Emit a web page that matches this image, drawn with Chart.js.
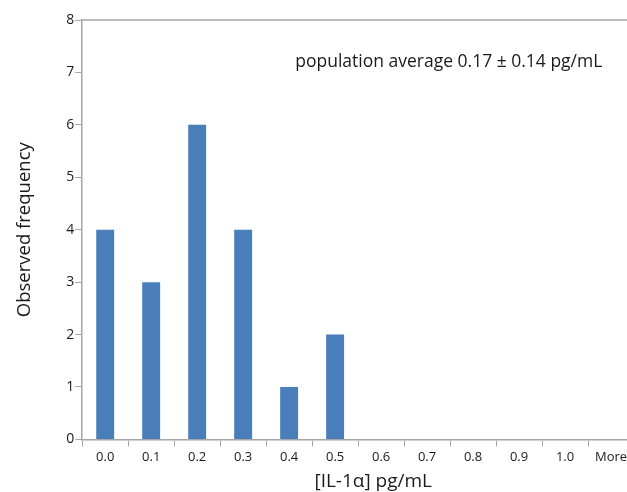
<!DOCTYPE html>
<html>
<head>
<meta charset="utf-8">
<script src="https://cdn.jsdelivr.net/npm/chart.js@4"></script>
<style>
	html, body { margin: 0; padding: 0; background: #fff; overflow: hidden; }
	#wrap { width: 640px; height: 492px; }
</style>
</head>
<body>
<div id="wrap"><canvas id="hist"></canvas></div>
<script>
const binLabels = ["0.0", "0.1", "0.2", "0.3", "0.4", "0.5", "0.6", "0.7", "0.8", "0.9", "1.0", "More"];
const frequencies = [4, 3, 6, 4, 1, 2, 0, 0, 0, 0, 0, 0];
const yTicks = [0, 1, 2, 3, 4, 5, 6, 7, 8];
const note = "population average 0.17 ± 0.14 pg/mL";
const xTitle = "[IL-1α] pg/mL";

const axisGrey = "#a6a6a6";
const textColor = "#1a1a1a";
const fontFamily = "'Open Sans', 'Noto Sans', sans-serif";

// top frame line, the average note and the x title (sits right of centre in the original)
const extras = {
	id: "extras",
	afterDraw(chart) {
		const { ctx, chartArea } = chart;
		ctx.save();
		ctx.strokeStyle = axisGrey;
		ctx.lineWidth = 1.5;
		ctx.beginPath();
		ctx.moveTo(chartArea.left, chartArea.top);
		ctx.lineTo(chartArea.right, chartArea.top);
		ctx.stroke();
		ctx.fillStyle = textColor;
		ctx.textBaseline = "middle";
		ctx.font = "17.5px " + fontFamily;
		ctx.textAlign = "left";
		ctx.fillText(note, chartArea.left + 213, chart.scales.y.getPixelForValue(7.2));
		ctx.font = "19px " + fontFamily;
		ctx.textAlign = "center";
		ctx.fillText(xTitle, chartArea.left + 291, chartArea.bottom + 42);
		ctx.restore();
	},
};

const data = {
	labels: binLabels,
	datasets: [
		{
			data: frequencies,
			backgroundColor: "#4a7ebb",
			borderWidth: 0,
			barPercentage: 0.39,
			categoryPercentage: 1,
		},
	],
};

const options = {
	responsive: true,
	maintainAspectRatio: false,
	animation: false,
	layout: { padding: { top: 20, right: 6, left: 14, bottom: 24 } },
	plugins: {
		legend: { display: false },
		tooltip: { enabled: false },
	},
	scales: {
		x: {
			grid: {
				offset: true,
				drawOnChartArea: false,
				drawTicks: true,
				tickLength: 7,
				color: axisGrey,
			},
			border: { color: axisGrey, width: 1.5 },
			ticks: {
				color: textColor,
				font: { family: fontFamily, size: 13 },
				maxRotation: 0,
				autoSkip: false,
				padding: 3,
			},
		},
		y: {
			min: 0,
			max: 8,
			afterBuildTicks: axis => {
				axis.ticks = yTicks.map(v => ({ value: v }));
			},
			grid: {
				drawOnChartArea: false,
				drawTicks: true,
				tickLength: 7,
				color: axisGrey,
			},
			border: { color: axisGrey, width: 1.5 },
			ticks: {
				color: textColor,
				font: { family: fontFamily, size: 14 },
				padding: 1,
			},
			title: {
				display: true,
				text: "Observed frequency",
				color: textColor,
				font: { family: fontFamily, size: 18.5 },
				padding: { top: 0, bottom: 29 },
			},
		},
	},
};

new Chart(document.getElementById("hist"), {
	type: "bar",
	data: data,
	options: options,
	plugins: [extras],
});
</script>
</body>
</html>
